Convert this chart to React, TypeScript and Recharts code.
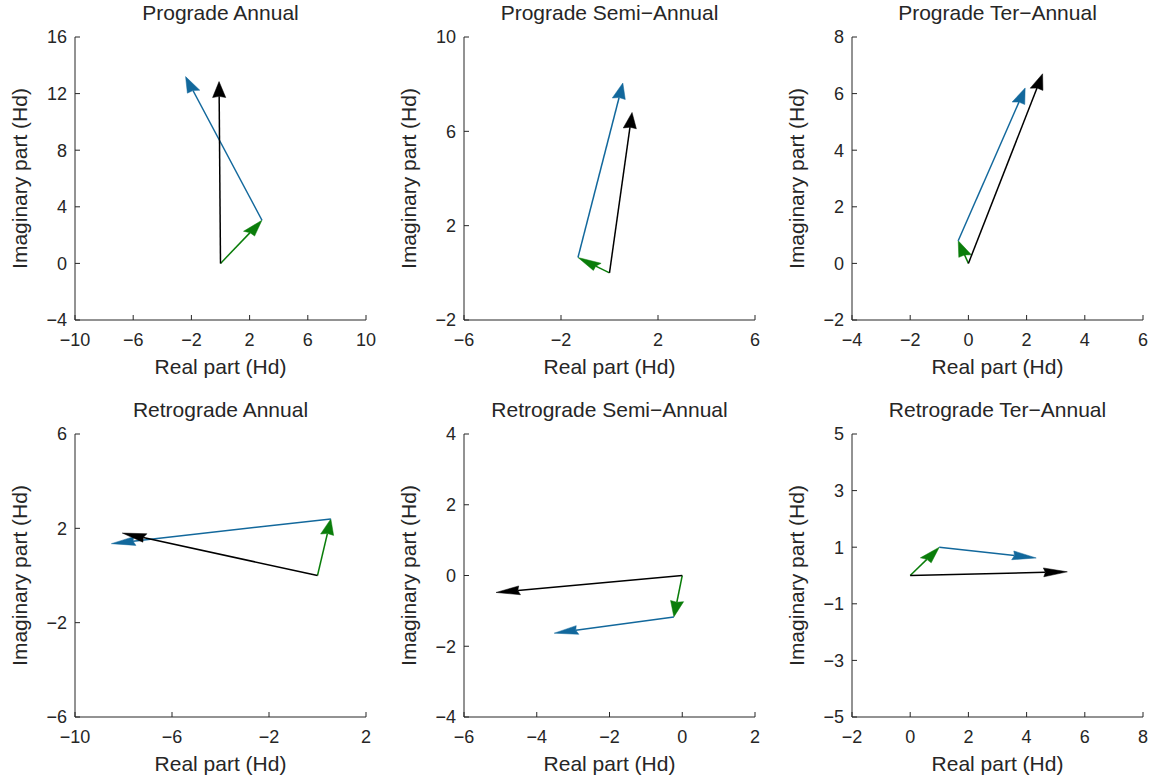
import { ComposedChart, XAxis, YAxis, Scatter, ReferenceLine } from "recharts";

// panel order: top row prograde, bottom row retrograde
const TITLES = [
  "Prograde Annual",
  "Prograde Semi\u2212Annual",
  "Prograde Ter\u2212Annual",
  "Retrograde Annual",
  "Retrograde Semi\u2212Annual",
  "Retrograde Ter\u2212Annual",
];

const X_TICKS = [
  [-10, -6, -2, 2, 6, 10],
  [-6, -2, 2, 6],
  [-4, -2, 0, 2, 4, 6],
  [-10, -6, -2, 2],
  [-6, -4, -2, 0, 2],
  [-2, 0, 2, 4, 6, 8],
];

const Y_TICKS = [
  [-4, 0, 4, 8, 12, 16],
  [-2, 2, 6, 10],
  [-2, 0, 2, 4, 6, 8],
  [-6, -2, 2, 6],
  [-4, -2, 0, 2, 4],
  [-5, -3, -1, 1, 3, 5],
];

// green: origin -> G, blue: G -> B, black: origin -> K
const GREEN_TIPS = [
  [2.85, 3.05],
  [-1.3, 0.65],
  [-0.35, 0.8],
  [0.55, 2.4],
  [-0.23, -1.17],
  [1.0, 1.0],
];

const BLUE_TIPS = [
  [-2.4, 13.2],
  [0.55, 8.05],
  [1.95, 6.2],
  [-8.5, 1.35],
  [-3.52, -1.63],
  [4.33, 0.62],
];

const BLACK_TIPS = [
  [-0.1, 12.85],
  [0.93, 6.8],
  [2.55, 6.7],
  [-8.05, 1.8],
  [-5.12, -0.48],
  [5.4, 0.13],
];

const COL_LEFT = [75, 464, 852];
const ROW_TOP = [37, 434];
const PLOT_W = 291;
const PLOT_H = 283;
const PAD_L = 80;
const PAD_T = 40;

const GREEN = "#0a7d0a";
const BLUE = "#12689c";
const BLACK = "#000000";
const TEXT = "#262626";
const FONT = '"Liberation Sans", Arial, Helvetica, sans-serif';

// arrow heads are drawn in a stretched space (wider along x than y)
const SX = 1.22;
const SY = 0.82;
const HEAD_LEN = 19.5;
const HEAD_HALF = 5.4;
const NOTCH = 1.5;

const fmt = (v: number) => String(v).replace("-", "\u2212");

function arrowShape(color: string) {
  return (props: any) => {
    const x1 = Number(props.x1);
    const y1 = Number(props.y1);
    const x2 = Number(props.x2);
    const y2 = Number(props.y2);
    const ndx = (x2 - x1) / SX;
    const ndy = (y2 - y1) / SY;
    const len = Math.hypot(ndx, ndy) || 1;
    const ux = ndx / len;
    const uy = ndy / len;
    const L = Math.min(HEAD_LEN, len * 0.85);
    const nx = -uy;
    const ny = ux;
    const at = (a: number, w: number) => [
      x2 + (-ux * a + nx * w) * SX,
      y2 + (-uy * a + ny * w) * SY,
    ];
    const m = at(L - NOTCH, 0);
    const pts = [[x2, y2], at(L, HEAD_HALF), m, at(L, -HEAD_HALF)]
      .map((p) => p.join(","))
      .join(" ");
    return (
      <g>
        <line x1={x1} y1={y1} x2={m[0]} y2={m[1]} stroke={color} strokeWidth={1.5} />
        <polygon points={pts} fill={color} stroke={color} strokeWidth={0.5} />
      </g>
    );
  };
}

function Panel({ i }: { i: number }) {
  const col = i % 3;
  const row = Math.floor(i / 3);
  const xt = X_TICKS[i];
  const yt = Y_TICKS[i];
  const g = GREEN_TIPS[i];
  const b = BLUE_TIPS[i];
  const k = BLACK_TIPS[i];
  const points = [
    { x: 0, y: 0 },
    { x: g[0], y: g[1] },
    { x: b[0], y: b[1] },
    { x: k[0], y: k[1] },
  ];
  const tickStyle = { fontSize: 18, fill: TEXT, fontFamily: FONT };
  return (
    <div
      style={{
        position: "absolute",
        left: COL_LEFT[col] - PAD_L,
        top: ROW_TOP[row] - PAD_T,
      }}
    >
      <ComposedChart
        width={PLOT_W + PAD_L + 20}
        height={PLOT_H + PAD_T + 70}
        margin={{ top: PAD_T, right: 20, bottom: 0, left: 0 }}
      >
        <XAxis
          type="number"
          dataKey="x"
          domain={[xt[0], xt[xt.length - 1]]}
          ticks={xt}
          interval={0}
          allowDataOverflow
          height={70}
          tickSize={-5}
          tickMargin={18.5}
          tick={tickStyle}
          tickFormatter={fmt}
          axisLine={{ stroke: TEXT }}
          tickLine={{ stroke: TEXT }}
        />
        <YAxis
          type="number"
          dataKey="y"
          domain={[yt[0], yt[yt.length - 1]]}
          ticks={yt}
          interval={0}
          allowDataOverflow
          width={PAD_L}
          tickSize={-5}
          tickMargin={13}
          tick={tickStyle}
          tickFormatter={fmt}
          axisLine={{ stroke: TEXT }}
          tickLine={{ stroke: TEXT }}
        />
        <Scatter data={points} shape={() => <g />} isAnimationActive={false} />
        <ReferenceLine
          segment={[{ x: 0, y: 0 }, { x: g[0], y: g[1] }]}
          ifOverflow="visible"
          shape={arrowShape(GREEN)}
        />
        <ReferenceLine
          segment={[{ x: g[0], y: g[1] }, { x: b[0], y: b[1] }]}
          ifOverflow="visible"
          shape={arrowShape(BLUE)}
        />
        <ReferenceLine
          segment={[{ x: 0, y: 0 }, { x: k[0], y: k[1] }]}
          ifOverflow="visible"
          shape={arrowShape(BLACK)}
        />
      </ComposedChart>
    </div>
  );
}

export default function App() {
  return (
    <div style={{ position: "absolute", left: 0, top: 0, width: 1155, height: 781, background: "#fff" }}>
      {TITLES.map((_, i) => (
        <Panel key={i} i={i} />
      ))}
      <svg
        width={1155}
        height={781}
        style={{ position: "absolute", left: 0, top: 0, pointerEvents: "none" }}
        fontFamily={FONT}
        fill={TEXT}
        fontSize={21}
      >
        {TITLES.map((t, i) => {
          const col = i % 3;
          const row = Math.floor(i / 3);
          const cx = COL_LEFT[col] + PLOT_W / 2;
          const top = ROW_TOP[row];
          const cy = top + PLOT_H / 2;
          const yl = COL_LEFT[col] - 48.5;
          return (
            <g key={i}>
              <text x={cx} y={top - 17} textAnchor="middle">
                {t}
              </text>
              <text x={cx} y={top + PLOT_H + 54} textAnchor="middle">
                Real part (Hd)
              </text>
              <text
                x={yl}
                y={cy}
                textAnchor="middle"
                transform={`rotate(-90 ${yl} ${cy})`}
              >
                Imaginary part (Hd)
              </text>
            </g>
          );
        })}
      </svg>
    </div>
  );
}
